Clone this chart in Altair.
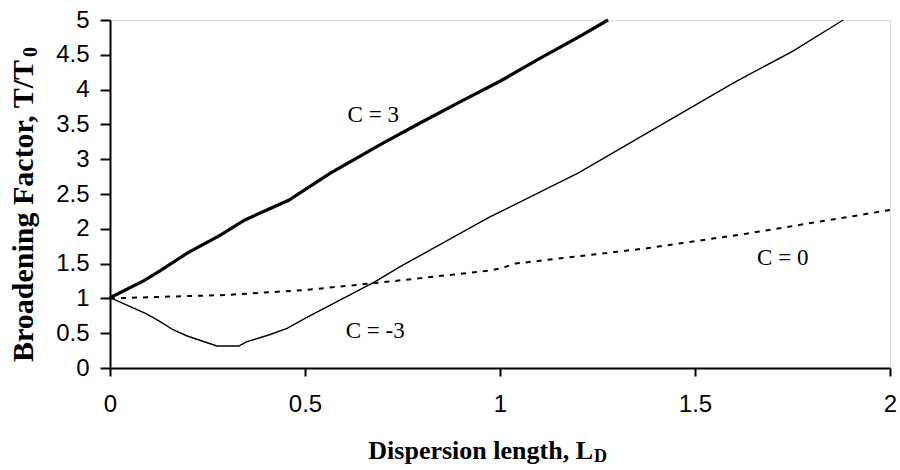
import altair as alt
import pandas as pd

# C = 3 (thick solid)
x_c3 = [0, 0.087, 0.125, 0.198, 0.283, 0.347, 0.458, 0.565, 0.70, 0.795, 0.906, 1.0, 1.1, 1.2, 1.277]
y_c3 = [1.01, 1.255, 1.384, 1.65, 1.91, 2.13, 2.41, 2.80, 3.23, 3.52, 3.85, 4.12, 4.44, 4.75, 5.0]

# C = -3 (thin solid)
x_cm3 = [0, 0.091, 0.121, 0.163, 0.198, 0.274, 0.33, 0.351, 0.407, 0.454, 0.5, 0.68, 0.744, 0.974, 1.2, 1.4, 1.6, 1.75, 1.88]
y_cm3 = [1.01, 0.786, 0.69, 0.546, 0.46, 0.316, 0.316, 0.378, 0.474, 0.57, 0.714, 1.24, 1.456, 2.17, 2.8, 3.45, 4.1, 4.55, 5.0]

# C = 0 (dashed)
x_c0 = [0, 0.3, 0.5, 0.68, 0.974, 1.0, 1.04, 1.376, 1.632, 2.0]
y_c0 = [1.0, 1.05, 1.12, 1.22, 1.40, 1.43, 1.50, 1.72, 1.93, 2.27]

labels = ["C = 3", "C = -3", "C = 0"]
label_x = [0.675, 0.68, 1.725]
label_y = [3.63, 0.53, 1.58]

x_ticks = [0, 0.5, 1, 1.5, 2]
y_ticks = [0, 0.5, 1, 1.5, 2, 2.5, 3, 3.5, 4, 4.5, 5]

d3 = pd.DataFrame({"x": x_c3, "y": y_c3})
dm3 = pd.DataFrame({"x": x_cm3, "y": y_cm3})
d0 = pd.DataFrame({"x": x_c0, "y": y_c0})
dl = pd.DataFrame({"x": label_x, "y": label_y, "t": labels})

xs = alt.Scale(domain=[0, 2], nice=False, zero=False)
ys = alt.Scale(domain=[0, 5], nice=False, zero=False)

xax = alt.Axis(values=x_ticks, title=None, grid=False, tickSize=8, labelPadding=16, format="~g")
yax = alt.Axis(values=y_ticks, title=None, grid=False, tickSize=10, labelPadding=11, format="~g")

X = alt.X("x:Q", scale=xs, axis=xax)
Y = alt.Y("y:Q", scale=ys, axis=yax)

l3 = alt.Chart(d3).mark_line(color="black", strokeWidth=3.2).encode(x=X, y=Y, order="x:Q")
lm3 = alt.Chart(dm3).mark_line(color="black", strokeWidth=1.4).encode(x=X, y=Y, order="x:Q")
l0 = alt.Chart(d0).mark_line(color="black", strokeWidth=2, strokeDash=[5, 6]).encode(x=X, y=Y, order="x:Q")

txt = alt.Chart(dl).mark_text(font="Liberation Serif", fontSize=23, color="black").encode(
    x=X, y=Y, text="t:N")

# axis titles with subscripts
xt_main = alt.Chart(pd.DataFrame({"t": ["Dispersion length, L"]})).mark_text(
    font="Liberation Serif", fontSize=26, fontWeight="bold", color="black",
    align="right", baseline="alphabetic").encode(x=alt.value(483), y=alt.value(439), text="t:N")
xt_sub = alt.Chart(pd.DataFrame({"t": ["D"]})).mark_text(
    font="Liberation Serif", fontSize=18, fontWeight="bold", color="black",
    align="left", baseline="alphabetic").encode(x=alt.value(484), y=alt.value(442), text="t:N")

yt_main = alt.Chart(pd.DataFrame({"t": ["Broadening Factor, T/T"]})).mark_text(
    font="Liberation Serif", fontSize=30, fontWeight="bold", color="black",
    align="left", baseline="alphabetic", angle=270).encode(x=alt.value(-77), y=alt.value(342), text="t:N")
yt_sub = alt.Chart(pd.DataFrame({"t": ["0"]})).mark_text(
    font="Liberation Serif", fontSize=20, fontWeight="bold", color="black",
    align="left", baseline="alphabetic", angle=270).encode(x=alt.value(-73), y=alt.value(37), text="t:N")

chart = alt.layer(l3, lm3, l0, txt, xt_main, xt_sub, yt_main, yt_sub).properties(
    width=780, height=348,
    autosize=alt.AutoSizeParams(type="none"),
    padding={"left": 110, "top": 20, "right": 10, "bottom": 102},
).configure_view(stroke="black", strokeWidth=2).configure(background="white").configure_axis(
    domainWidth=2, domainColor="black", tickColor="black", tickWidth=2,
    labelFont="Liberation Sans", labelFontSize=24, labelColor="black",
    labelOverlap=False, labelFlush=False, grid=False,
)

chart.save("out.html", embed_options={"renderer": "svg", "actions": False})
